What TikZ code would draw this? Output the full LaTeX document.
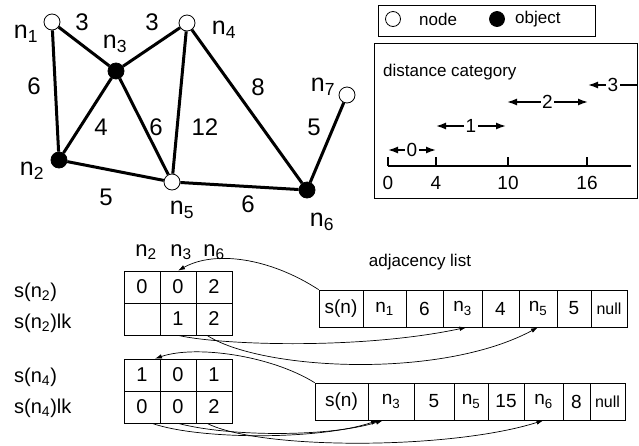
\documentclass[tikz,border=0pt]{standalone}
\usepackage{fontspec}
\setmainfont{Liberation Sans}
\usetikzlibrary{arrows.meta}
\begin{document}
\begin{tikzpicture}[x=1pt,y=-1pt,
  vtx/.style={circle,draw,line width=0.8pt,minimum size=16pt,inner sep=0pt},
  wv/.style={vtx,fill=white},
  bv/.style={vtx,fill=black},
  gedge/.style={line width=3pt},
  glab/.style={font=\fontsize{25}{25}\selectfont,inner sep=0pt},
  wlab/.style={font=\fontsize{24}{24}\selectfont,inner sep=0pt},
  frame/.style={draw,line width=0.9pt},
  small/.style={font=\fontsize{17}{17}\selectfont,inner sep=1pt},
  darr/.style={line width=1.5pt,{Latex[length=10pt,width=7pt]}-{Latex[length=10pt,width=7pt]}},
  dlab/.style={fill=white,inner sep=1.5pt,font=\fontsize{19}{19}\selectfont},
  tcell/.style={draw,line width=0.7pt,inner sep=0pt,minimum width=36pt,minimum height=32pt,font=\fontsize{20}{20}\selectfont},
  acell/.style={draw,line width=0.7pt,inner sep=0pt,minimum height=37pt,font=\fontsize{19}{19}\selectfont},
  slab/.style={anchor=west,inner sep=0pt,font=\fontsize{20}{20}\selectfont},
  curv/.style={line width=0.7pt,-{Latex[length=7pt,width=4.5pt]}}
]
\useasboundingbox (0,0) rectangle (639,445);

% ---------------- graph ----------------
\node[wv] (n1) at (52,22) {};
\node[bv] (n3) at (116,71) {};
\node[wv] (n4) at (187,23) {};
\node[bv] (n2) at (59,160) {};
\node[wv] (n5) at (172,182) {};
\node[bv] (n6) at (307,190) {};
\node[wv] (n7) at (347,95) {};
\draw[gedge] (n1)--(n3) (n1)--(n2) (n3)--(n4) (n3)--(n2) (n3)--(n5)
  (n4)--(n5) (n4)--(n6) (n2)--(n5) (n5)--(n6) (n6)--(n7);

\node[glab] (ln1) at (26,34) {n\textsubscript{1}};
\node[glab] (ln3) at (115,44) {n\textsubscript{3}};
\node[glab] (ln4) at (224,30) {n\textsubscript{4}};
\node[glab] (ln7) at (323,87) {n\textsubscript{7}};
\node[glab] (ln2) at (32,171) {n\textsubscript{2}};
\node[glab] (ln5) at (182,210) {n\textsubscript{5}};
\node[glab] (ln6) at (322,222) {n\textsubscript{6}};
\node[wlab] (w13) at (82,22) {3};
\node[wlab] (w34) at (152,22) {3};
\node[wlab] (w12) at (34,86) {6};
\node[wlab] (w32) at (101,127) {4};
\node[wlab] (w35) at (156,127) {6};
\node[wlab] (w45) at (205,127) {12};
\node[wlab] (w46) at (258,87) {8};
\node[wlab] (w67) at (314,127) {5};
\node[wlab] (w25) at (106,197) {5};
\node[wlab] (w56) at (248,204) {6};

% ---------------- legend ----------------
\node[frame,minimum width=217pt,minimum height=31pt,inner sep=0pt] (legend) at (486.5,20.5) {};
\node[vtx,minimum size=15pt,fill=white] (lw) at (393,19) {};
\node[small,anchor=west] (lwt) at (418,19) {node};
\node[vtx,minimum size=15pt,fill=black] (lb) at (497,19) {};
\node[small,anchor=west] (lbt) at (514,19) {object};

% ---------------- distance category ----------------
\node[frame,minimum width=263pt,minimum height=155pt,inner sep=0pt] (dbox) at (505.5,120.5) {};
\node[small,anchor=west] (dtitle) at (382,72) {distance category};
\coordinate (ax0) at (388,166);
\coordinate (ax4) at (436,166);
\coordinate (ax10) at (508,166);
\coordinate (ax16) at (587,166);
\coordinate (axe) at (631,166);
\draw[line width=1.2pt] (ax0) -- (axe);
\foreach \p/\v in {ax0/0,ax4/4,ax10/10,ax16/16}{
  \draw[line width=1.2pt] (\p) -- ++(0,-9);
  \node[dlab,fill=none] at ([yshift=-17pt]\p) {\v};
}
\coordinate (c0a) at (388,150); \coordinate (c0b) at (436,150);
\coordinate (c1a) at (436,126); \coordinate (c1b) at (506,126);
\coordinate (c2a) at (507,102); \coordinate (c2b) at (588,102);
\coordinate (c3a) at (588,85);  \coordinate (c3b) at (638,85);
\draw[darr] (c0a) -- (c0b) node[midway,dlab] {0};
\draw[darr] (c1a) -- (c1b) node[midway,dlab] {1};
\draw[darr] (c2a) -- (c2b) node[midway,dlab] {2};
\draw[line width=1.5pt,{Latex[length=10pt,width=7pt]}-] (c3a) -- (c3b) node[pos=0.5,dlab] {3};

% ---------------- tables ----------------
\node[font=\fontsize{22}{22}\selectfont,inner sep=0pt] (h2) at (146,252) {n\textsubscript{2}};
\node[font=\fontsize{22}{22}\selectfont,inner sep=0pt] (h3) at (181,252) {n\textsubscript{3}};
\node[font=\fontsize{22}{22}\selectfont,inner sep=0pt] (h6) at (214,252) {n\textsubscript{6}};

\node[tcell] (t1a1) at (142,287) {0};
\node[tcell] (t1a2) at (178,287) {0};
\node[tcell] (t1a3) at (214,287) {2};
\node[tcell] (t1b1) at (142,319) {};
\node[tcell] (t1b2) at (178,319) {1};
\node[tcell] (t1b3) at (214,319) {2};

\node[tcell] (t2a1) at (142,375) {1};
\node[tcell] (t2a2) at (178,375) {0};
\node[tcell] (t2a3) at (214,375) {1};
\node[tcell] (t2b1) at (142,407) {0};
\node[tcell] (t2b2) at (178,407) {0};
\node[tcell] (t2b3) at (214,407) {2};

\node[slab] (s2) at (14,292) {s(n\textsubscript{2})};
\node[slab] (s2l) at (14,323) {s(n\textsubscript{2})lk};
\node[slab] (s4) at (14,377) {s(n\textsubscript{4})};
\node[slab] (s4l) at (14,408) {s(n\textsubscript{4})lk};

% ---------------- adjacency lists ----------------
\node[small] (atitle) at (420,262) {adjacency list};

\node[acell,minimum width=44pt] (a1) at (341,308.5) {s(n)};
\node[acell,minimum width=43pt] (a2) at (384.5,308.5) {n\textsubscript{1}};
\node[acell,minimum width=37pt] (a3) at (424.5,308.5) {6};
\node[acell,minimum width=39pt] (a4) at (462.5,308.5) {n\textsubscript{3}};
\node[acell,minimum width=37pt] (a5) at (500.5,308.5) {4};
\node[acell,minimum width=38pt] (a6) at (538,308.5) {n\textsubscript{5}};
\node[acell,minimum width=34pt] (a7) at (574,308.5) {5};
\node[acell,minimum width=36pt,font=\fontsize{16}{16}\selectfont] (a8) at (609,308.5) {null};

\node[acell,minimum width=53pt] (b1) at (341.5,401.5) {s(n)};
\node[acell,minimum width=46pt] (b2) at (391,401.5) {n\textsubscript{3}};
\node[acell,minimum width=40pt] (b3) at (434,401.5) {5};
\node[acell,minimum width=34pt] (b4) at (471,401.5) {n\textsubscript{5}};
\node[acell,minimum width=36pt] (b5) at (506,401.5) {15};
\node[acell,minimum width=39pt] (b6) at (543.5,401.5) {n\textsubscript{6}};
\node[acell,minimum width=27pt] (b7) at (576.5,401.5) {8};
\node[acell,minimum width=35pt,font=\fontsize{16}{16}\selectfont] (b8) at (607.5,401.5) {null};

% ---------------- pointers ----------------
\draw[curv] (a1.north west) .. controls (270,258) and (215,250) .. (t1a2.north);
\draw[curv] (t1b2.south) .. controls (220,345) and (360,350) .. ([xshift=4pt]a4.south);
\draw[curv] ([xshift=-7pt]t1b3.south) .. controls (260,370) and (440,380) .. (a6.south);
\draw[curv] (b1.north west) .. controls (270,355) and (195,345) .. ([xshift=13pt]t2a1.north);
\draw[curv] ([xshift=10pt]t2b1.south) .. controls (200,440) and (320,440) .. ([xshift=-13pt]b2.south);
\draw[curv] (t2b2.south) .. controls (230,437) and (330,437) .. ([xshift=-8pt]b2.south);
\draw[curv] ([xshift=-7pt]t2b3.south) .. controls (260,450) and (450,450) .. (b6.south);
\end{tikzpicture}
\end{document}
